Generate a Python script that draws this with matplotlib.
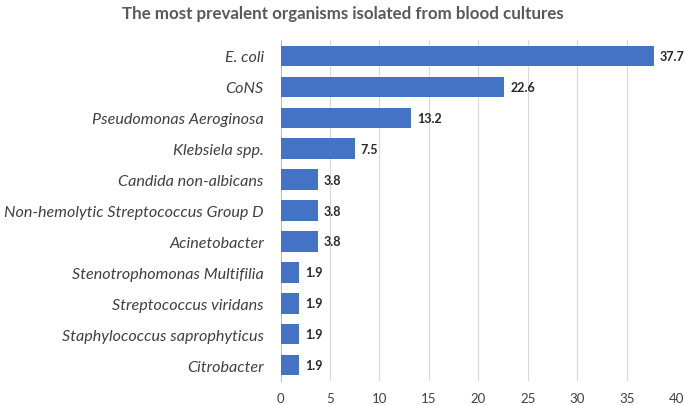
import matplotlib.pyplot as plt

organisms = ["E. coli", "CoNS", "Pseudomonas Aeroginosa", "Klebsiela spp.",
             "Candida non-albicans", "Non-hemolytic Streptococcus Group D",
             "Acinetobacter", "Stenotrophomonas Multifilia",
             "Streptococcus viridans", "Staphylococcus saprophyticus", "Citrobacter"]
percent = [37.7, 22.6, 13.2, 7.5, 3.8, 3.8, 3.8, 1.9, 1.9, 1.9, 1.9]
x_ticks = [0, 5, 10, 15, 20, 25, 30, 35, 40]

plt.rcParams['font.family'] = ['Lato', 'DejaVu Sans']

fig = plt.figure(figsize=(6.85, 4.06), dpi=100)
ax = fig.add_axes([0.4095, 0.06, 0.578, 0.838])

ypos = list(range(len(organisms)))
bars = ax.barh(ypos, percent, height=0.66, color="#4472C4", zorder=3)
ax.set_ylim(len(organisms) - 0.5, -0.5)
ax.set_xlim(0, 40)
ax.set_xticks(x_ticks)
ax.set_yticks(ypos)
ax.set_yticklabels(organisms, fontstyle="italic", fontsize=11.6, color="#404040")
ax.tick_params(axis="x", labelsize=9.5, colors="#404040", length=0, pad=8)
ax.tick_params(axis="y", length=0, pad=12)

ax.grid(axis="x", color="#D9D9D9", linewidth=0.8, zorder=0)
for s in ["top", "right", "bottom"]:
    ax.spines[s].set_visible(False)
ax.spines["left"].set_color("#BFBFBF")

for b, v in zip(bars, percent):
    ax.text(v + 0.6, b.get_y() + b.get_height() / 2, f"{v}", va="center",
            ha="left", fontsize=9, fontweight="bold", color="#262626")

fig.text(0.5, 0.965, "The most prevalent organisms isolated from blood cultures",
         ha="center", va="center", fontsize=12.2, fontweight="bold", color="#595959")

fig.savefig("out.png", dpi=100)
